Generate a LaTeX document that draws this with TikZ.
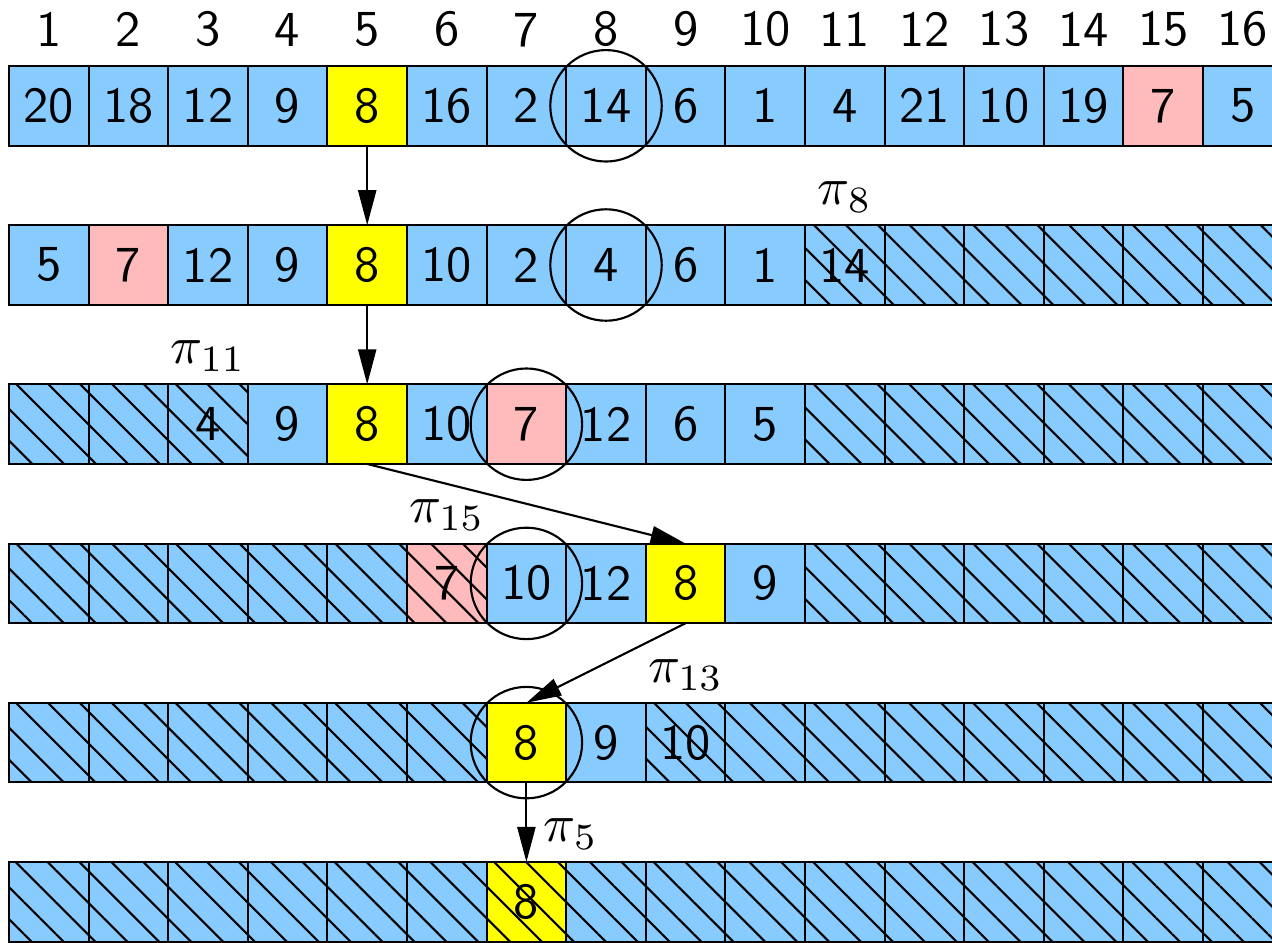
\documentclass[tikz,border=0pt]{standalone}
\usepackage{fontspec}
\usepackage{tikz}
\usetikzlibrary{arrows.meta,positioning,patterns.meta}
\definecolor{cellblue}{HTML}{88CCFF}
\definecolor{cellpink}{HTML}{FFBBBB}
\definecolor{cellyel}{HTML}{FFFF00}

\begin{document}
\begin{tikzpicture}[x=15pt,y=15pt,>={Triangle[length=6.6pt,width=3.4pt]}, every node/.style={font=\fontsize{9.5}{11}\selectfont\sffamily}]
\tikzstyle{cellbox}=[draw, line width=0.4pt, minimum size=15pt, inner sep=0pt, outer sep=0pt]
\tikzstyle{hatch}=[postaction={pattern={Lines[angle=-45,distance=4.25pt,line width=0.4pt]}}]
\tikzstyle{blu}=[cellbox, fill=cellblue]
\tikzstyle{yel}=[cellbox, fill=cellyel]
\tikzstyle{pnk}=[cellbox, fill=cellpink]
\tikzstyle{hblu}=[blu, hatch]
\tikzstyle{hyel}=[yel, hatch]
\tikzstyle{hpnk}=[pnk, hatch]
\tikzstyle{idx}=[inner sep=0pt]
\tikzstyle{ring}=[draw, circle, line width=0.4pt, minimum size=21pt, inner sep=0pt]
\tikzstyle{lbl}=[inner sep=0pt, font=\normalsize]
\useasboundingbox (-0.113,-11.005) rectangle (15.867,0.829);
\clip (-0.113,-11.005) rectangle (15.867,0.829);
% rows of the array
\foreach \v/\s [count=\i] in {20/blu,18/blu,12/blu,9/blu,8/yel,16/blu,2/blu,14/blu,6/blu,1/blu,4/blu,21/blu,10/blu,19/blu,7/pnk,5/blu}
  \node[\s] (r1-\i) at (\i-0.5,-0.5) {\v};
\foreach \v/\s [count=\i] in {5/blu,7/pnk,12/blu,9/blu,8/yel,10/blu,2/blu,4/blu,6/blu,1/blu,14/hblu,{}/hblu,{}/hblu,{}/hblu,{}/hblu,{}/hblu}
  \node[\s] (r2-\i) at (\i-0.5,-2.5) {\v};
\foreach \v/\s [count=\i] in {{}/hblu,{}/hblu,4/hblu,9/blu,8/yel,10/blu,7/pnk,12/blu,6/blu,5/blu,{}/hblu,{}/hblu,{}/hblu,{}/hblu,{}/hblu,{}/hblu}
  \node[\s] (r3-\i) at (\i-0.5,-4.5) {\v};
\foreach \v/\s [count=\i] in {{}/hblu,{}/hblu,{}/hblu,{}/hblu,{}/hblu,7/hpnk,10/blu,12/blu,8/yel,9/blu,{}/hblu,{}/hblu,{}/hblu,{}/hblu,{}/hblu,{}/hblu}
  \node[\s] (r4-\i) at (\i-0.5,-6.5) {\v};
\foreach \v/\s [count=\i] in {{}/hblu,{}/hblu,{}/hblu,{}/hblu,{}/hblu,{}/hblu,8/yel,9/blu,10/hblu,{}/hblu,{}/hblu,{}/hblu,{}/hblu,{}/hblu,{}/hblu,{}/hblu}
  \node[\s] (r5-\i) at (\i-0.5,-8.5) {\v};
\foreach \v/\s [count=\i] in {{}/hblu,{}/hblu,{}/hblu,{}/hblu,{}/hblu,{}/hblu,8/hyel,{}/hblu,{}/hblu,{}/hblu,{}/hblu,{}/hblu,{}/hblu,{}/hblu,{}/hblu,{}/hblu}
  \node[\s] (r6-\i) at (\i-0.5,-10.5) {\v};
% indices
\foreach \i in {1,...,16}
  \node[idx, above=3.4pt of r1-\i] (idx\i) {\i};
% pivots
\node[ring] (c1) at (r1-8) {};
\node[ring] (c2) at (r2-8) {};
\node[ring] (c3) at (r3-7) {};
\node[ring] (c4) at (r4-7) {};
\node[ring] (c5) at (r5-7) {};
\node[lbl] (p8) at ([yshift=5.3pt]r2-11.north) {$\pi_{8}$};
\node[lbl] (p11) at ([yshift=5.3pt]r3-3.north) {$\pi_{11}$};
\node[lbl] (p15) at ([yshift=5.3pt]r4-6.north) {$\pi_{15}$};
\node[lbl] (p13) at ([yshift=5.3pt]r5-9.north) {$\pi_{13}$};
\node[lbl] (p5) at ([xshift=8.4pt,yshift=5.3pt]r6-7.north) {$\pi_{5}$};
\draw[->, line width=0.4pt] (r1-5.south) -- (r2-5.north);
\draw[->, line width=0.4pt] (r2-5.south) -- (r3-5.north);
\draw[->, line width=0.4pt] (r3-5.south) -- (r4-9.north);
\draw[->, line width=0.4pt] (r4-9.south) -- (r5-7.north);
\draw[->, line width=0.4pt] (r5-7.south) -- (r6-7.north);
\end{tikzpicture}
\end{document}
